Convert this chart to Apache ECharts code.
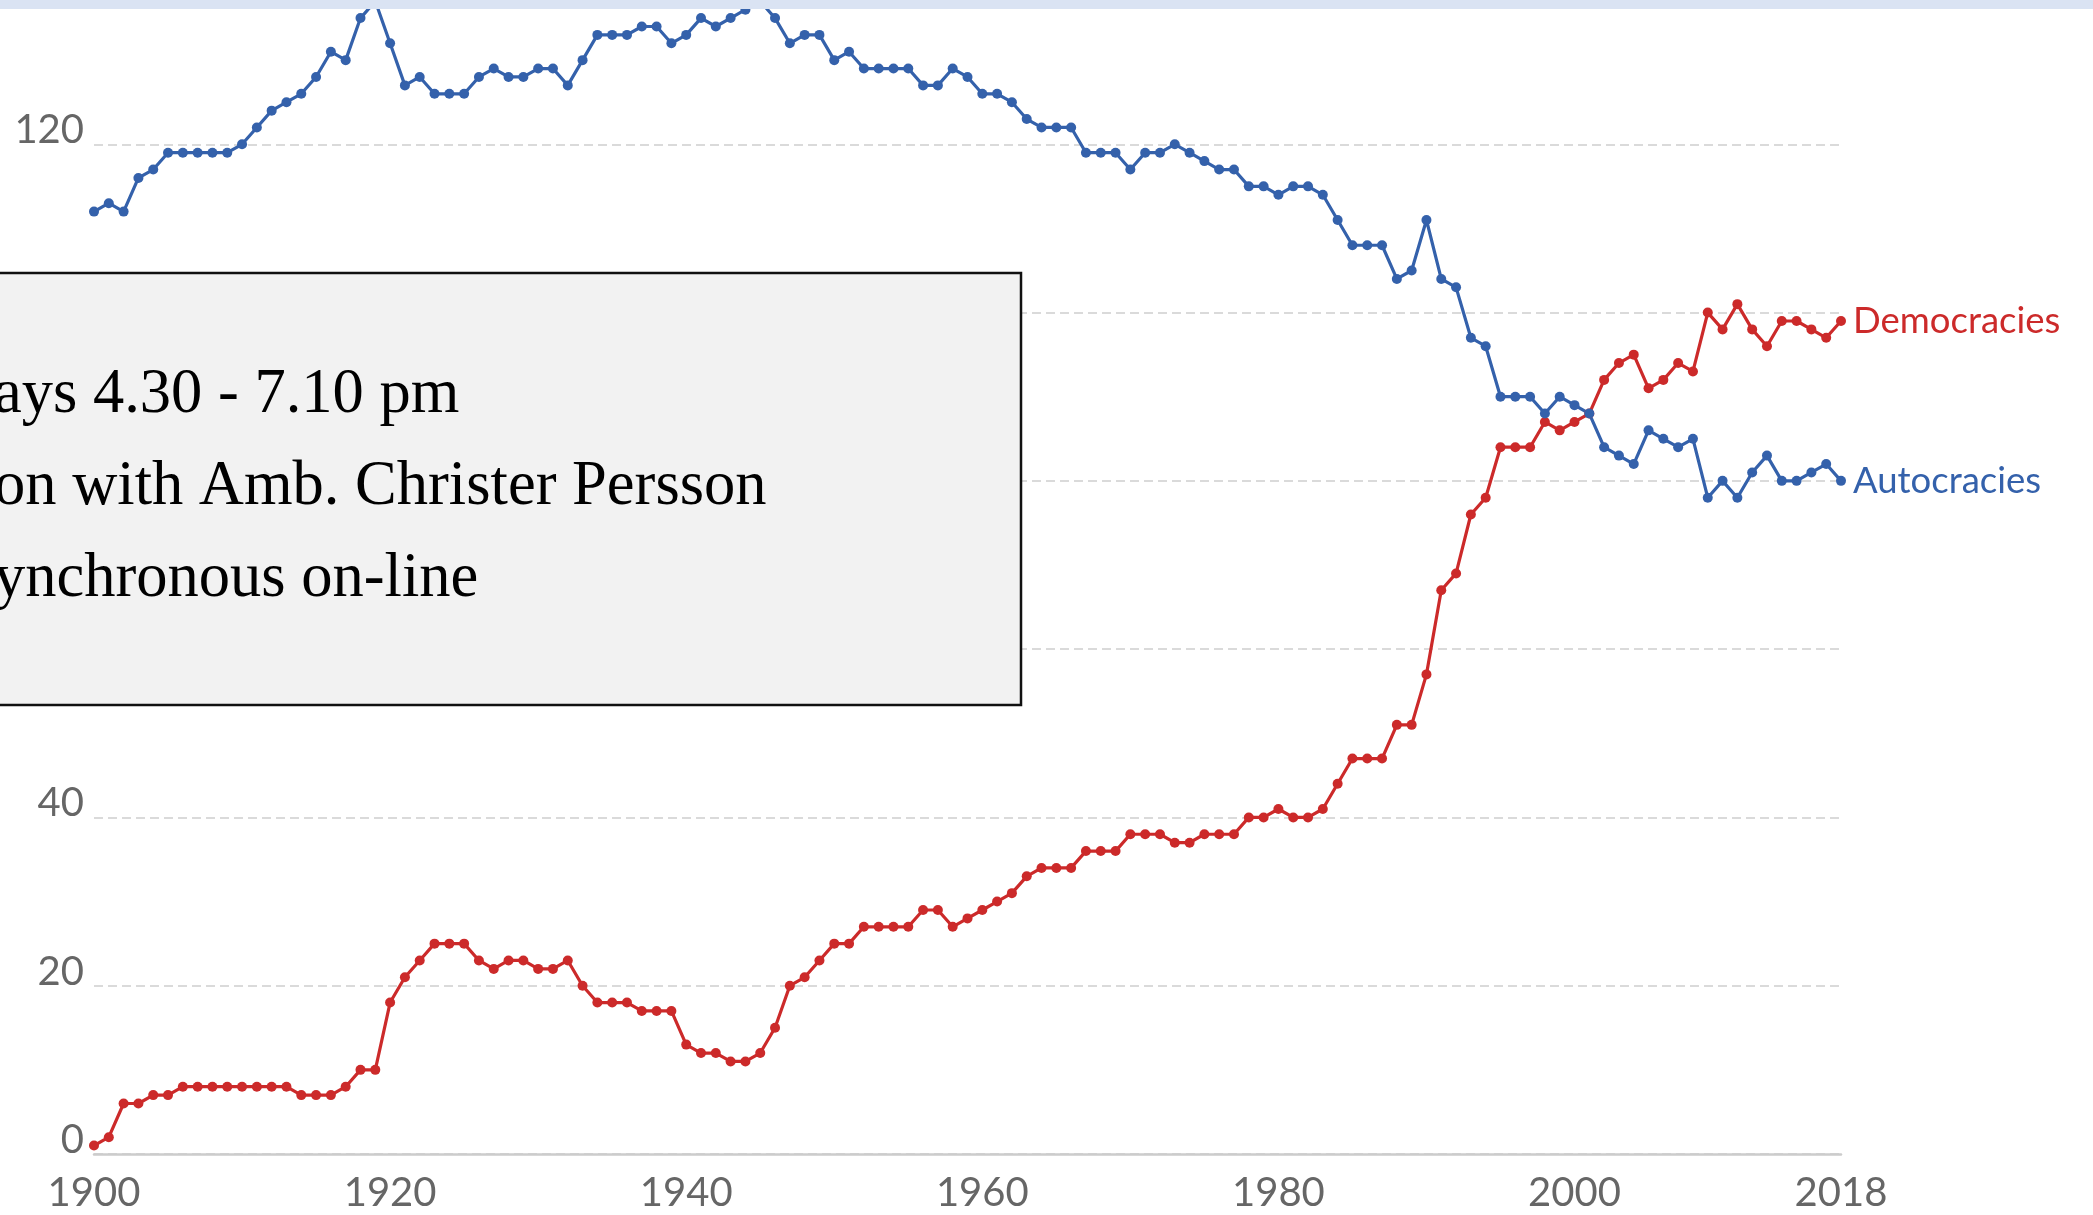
<!DOCTYPE html>
<html>
<head>
<meta charset="utf-8">
<script src="https://cdn.jsdelivr.net/npm/echarts@6/dist/echarts.min.js"></script>
<style>
html,body{margin:0;padding:0;background:#fff;}
#chart{width:2093px;height:1215px;}
</style>
</head>
<body>
<div id="chart"></div>
<script>
// ---- data ----
const firstYear = 1900;
const lastYear = 2018;
const years = [];
for (let y = firstYear; y <= lastYear; y++) years.push(String(y));

const xTickLabels = ['1900', '1920', '1940', '1960', '1980', '2000', '2018'];
const yTicks = [0, 20, 40, 60, 80, 100, 120, 140];

const democracies = [
  1, 2, 6, 6, 7, 7, 8, 8, 8, 8, 8, 8, 8, 8, 7, 7, 7, 8, 10, 10,
  18, 21, 23, 25, 25, 25, 23, 22, 23, 23, 22, 22, 23, 20, 18, 18, 18, 17, 17, 17,
  13, 12, 12, 11, 11, 12, 15, 20, 21, 23, 25, 25, 27, 27, 27, 27, 29, 29, 27, 28,
  29, 30, 31, 33, 34, 34, 34, 36, 36, 36, 38, 38, 38, 37, 37, 38, 38, 38, 40, 40,
  41, 40, 40, 41, 44, 47, 47, 47, 51, 51, 57, 67, 69, 76, 78, 84, 84, 84, 87, 86,
  87, 88, 92, 94, 95, 91, 92, 94, 93, 100, 98, 101, 98, 96, 99, 99, 98, 97, 99
];

const autocracies = [
  112, 113, 112, 116, 117, 119, 119, 119, 119, 119, 120, 122, 124, 125, 126, 128, 131, 130, 135, 137,
  132, 127, 128, 126, 126, 126, 128, 129, 128, 128, 129, 129, 127, 130, 133, 133, 133, 134, 134, 132,
  133, 135, 134, 135, 136, 137, 135, 132, 133, 133, 130, 131, 129, 129, 129, 129, 127, 127, 129, 128,
  126, 126, 125, 123, 122, 122, 122, 119, 119, 119, 117, 119, 119, 120, 119, 118, 117, 117, 115, 115,
  114, 115, 115, 114, 111, 108, 108, 108, 104, 105, 111, 104, 103, 97, 96, 90, 90, 90, 88, 90,
  89, 88, 84, 83, 82, 86, 85, 84, 85, 78, 80, 78, 81, 83, 80, 80, 81, 82, 80
];

const seriesNames = ['Democracies', 'Autocracies'];
const noteLines = ['ays 4.30 - 7.10 pm', 'on with Amb. Christer Persson', 'ynchronous on-line'];

// ---- styles ----
const RED = '#cc2a2a';
const BLUE = '#3461ab';
const GRAY = '#666666';
const NOTE_FONT = '62.5px "Liberation Serif"';

const chart = echarts.init(document.getElementById('chart'), null, {renderer: 'canvas'});

function lineSeries(name, data, color) {
  return {
    name: name,
    type: 'line',
    data: data,
    symbol: 'circle',
    symbolSize: 10,
    showAllSymbol: true,
    lineStyle: {color: color, width: 3.2},
    itemStyle: {color: color},
    emphasis: {disabled: true},
    endLabel: {
      show: true,
      formatter: '{a}',
      color: color,
      fontFamily: 'Lato',
      fontSize: 36.5,
      distance: 12
    },
    z: 3
  };
}

function noteText(i, y) {
  return {
    type: 'text', z: 101, zlevel: 1,
    x: -6, y: y,
    style: {text: noteLines[i], fill: '#000', font: NOTE_FONT, verticalAlign: 'middle', align: 'left'}
  };
}

const option = {
  animation: false,
  backgroundColor: '#ffffff',
  grid: {left: 94, right: 252, top: -24, bottom: 61, containLabel: false, outerBoundsMode: 'none'},
  xAxis: {
    type: 'category',
    data: years,
    boundaryGap: false,
    axisLine: {show: true, lineStyle: {color: '#cccccc', width: 2.5}},
    axisTick: {show: false},
    splitLine: {show: false},
    axisLabel: {
      interval: function (idx, val) { return xTickLabels.indexOf(val) !== -1; },
      color: GRAY,
      fontFamily: 'Lato',
      fontSize: 40,
      margin: 19,
      lineHeight: 40,
      showMaxLabel: true
    }
  },
  yAxis: {
    type: 'value',
    min: yTicks[0],
    max: yTicks[yTicks.length - 1],
    interval: 20,
    axisLine: {show: false},
    axisTick: {show: false},
    splitLine: {show: true, lineStyle: {color: '#dadada', width: 2, type: [9, 5]}},
    axisLabel: {
      color: GRAY,
      fontFamily: 'Lato',
      fontSize: 40,
      margin: 10,
      verticalAlign: 'bottom',
      lineHeight: 28,
      showMaxLabel: false
    }
  },
  series: [
    lineSeries(seriesNames[0], democracies, RED),
    lineSeries(seriesNames[1], autocracies, BLUE)
  ],
  graphic: [
    {
      type: 'rect', z: 100, zlevel: 1,
      shape: {x: 0, y: 0, width: 2093, height: 9},
      style: {fill: '#dae3f3'}
    },
    {
      type: 'rect', z: 100, zlevel: 1,
      shape: {x: -10, y: 273, width: 1031, height: 432},
      style: {fill: '#f2f2f2', stroke: '#111111', lineWidth: 2.5}
    },
    noteText(0, 396),
    noteText(1, 488),
    noteText(2, 580)
  ]
};

chart.setOption(option);
</script>
</body>
</html>
